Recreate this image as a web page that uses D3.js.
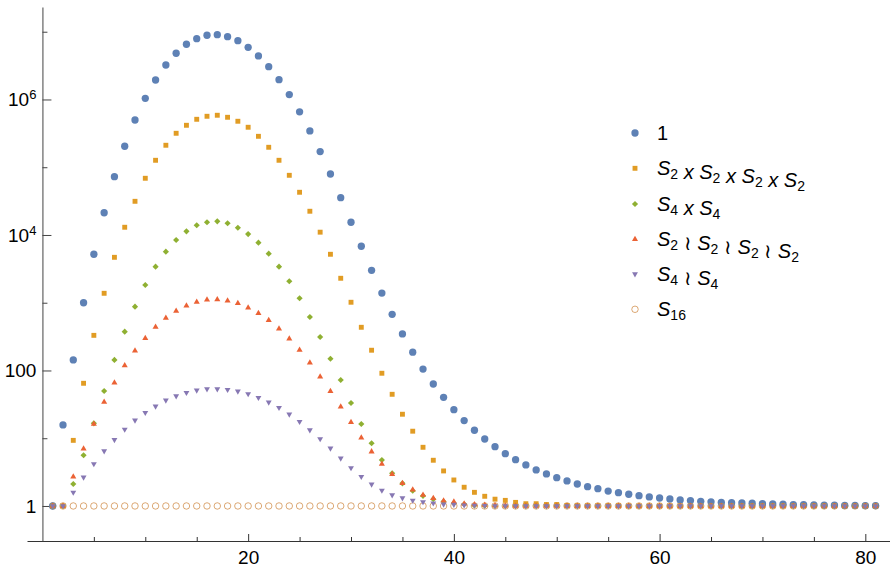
<!DOCTYPE html>
<html>
<head>
<meta charset="utf-8">
<script src="https://cdn.jsdelivr.net/npm/d3@7"></script>
<style>
  body { margin: 0; background: #fff; }
  svg { font-family: "Liberation Sans", Arial, sans-serif; }
</style>
</head>
<body>
<div id="chart"></div>
<script>
// x positions 1..81
const ks = d3.range(1, 82);

const seriesNames = ['1', 'S_2 x S_2 x S_2 x S_2', 'S_4 x S_4', 'S_2 ≀ S_2 ≀ S_2 ≀ S_2', 'S_4 ≀ S_4', 'S_16'];

const trivial = [
  1, 15.7, 143, 1000, 5190, 21300, 72600, 203800, 498000, 1040000,
  1940000, 3230000, 4810000, 6530000, 7890000, 8870000, 9040000, 8450000, 7380000, 5890000,
  4390000, 3050000, 1960000, 1180000, 658000, 343000, 170000, 79500, 35500, 15400,
  6810, 3010, 1390, 675, 346, 186, 105, 63.2, 40.2, 26.4,
  18.2, 13.1, 9.75, 7.5, 5.92, 4.82, 4.03, 3.40, 2.97, 2.62,
  2.34, 2.11, 1.93, 1.80, 1.66, 1.57, 1.49, 1.42, 1.36, 1.31,
  1.27, 1.23, 1.20, 1.17, 1.15, 1.13, 1.12, 1.11, 1.10, 1.08,
  1.07, 1.06, 1.05, 1.05, 1.04, 1.03, 1.03, 1.02, 1.02, 1.01, 1.01
];
const s2x4 = [
  1, 1, 9.3, 64.7, 330, 1378, 4680, 13000, 31400, 68700,
  126600, 211000, 317000, 416000, 510000, 565000, 585000, 546000, 477000, 389000,
  286000, 197000, 126600, 76000, 42700, 22400, 11000, 5190, 2296, 1016,
  434, 199, 91, 44.5, 22.6, 12.7, 7.35, 4.73, 3.29, 2.42,
  1.89, 1.59, 1.39, 1.26, 1.21, 1.13, 1.08, 1.08, 1.05, 1.05,
  1.02, 1.01, 1.01, 1.01, 1.01, 1.01, 1, 1, 1, 1,
  1, 1, 1, 1, 1, 1, 1, 1, 1, 1,
  1, 1, 1, 1, 1, 1, 1, 1, 1, 1, 1
];
const s4x2 = [
  1, 1, 2.11, 5.6, 16.6, 49.8, 143, 374, 875, 1828,
  3410, 5670, 8440, 11330, 13900, 15400, 15900, 14900, 12800, 10300,
  7700, 5300, 3410, 2072, 1163, 616, 312, 149, 72.4, 33.1,
  16.2, 8.42, 4.77, 3.04, 2.16, 1.68, 1.41, 1.26, 1.16, 1.10,
  1.06, 1.02, 1.01, 1, 1, 1, 1, 1, 1, 1,
  1, 1, 1, 1, 1, 1, 1, 1, 1, 1,
  1, 1, 1, 1, 1, 1, 1, 1, 1, 1,
  1, 1, 1, 1, 1, 1, 1, 1, 1, 1, 1
];
const s2wr4 = [
  1, 1, 2.71, 7.0, 16.2, 34.3, 66, 118, 196, 299,
  439, 596, 755, 905, 1026, 1110, 1120, 1072, 982, 846,
  698, 551, 414, 295, 201, 130, 81, 49.3, 29.2, 17.2,
  10.2, 6.34, 4.17, 2.94, 2.16, 1.74, 1.45, 1.30, 1.19, 1.15,
  1.08, 1.05, 1.03, 1.02, 1.01, 1, 1, 1, 1, 1,
  1, 1, 1, 1, 1, 1, 1, 1, 1, 1,
  1, 1, 1, 1, 1, 1, 1, 1, 1, 1,
  1, 1, 1, 1, 1, 1, 1, 1, 1, 1, 1
];
const s4wr2 = [
  1, 1, 1.59, 2.65, 4.17, 6.48, 9.5, 13.5, 18.4, 23.9,
  29.6, 36.3, 42.0, 47.1, 51, 53.3, 53.3, 52.1, 49.3, 45,
  39.7, 33.9, 28.3, 22.6, 17.6, 13.2, 9.75, 7.1, 5.06, 3.64,
  2.71, 2.09, 1.70, 1.45, 1.31, 1.21, 1.15, 1.10, 1.06, 1.05,
  1.03, 1.02, 1.01, 1, 1, 1, 1, 1, 1, 1,
  1, 1, 1, 1, 1, 1, 1, 1, 1, 1,
  1, 1, 1, 1, 1, 1, 1, 1, 1, 1,
  1, 1, 1, 1, 1, 1, 1, 1, 1, 1, 1
];
const s16 = [
  1, 1, 1, 1, 1, 1, 1, 1, 1, 1,
  1, 1, 1, 1, 1, 1, 1, 1, 1, 1,
  1, 1, 1, 1, 1, 1, 1, 1, 1, 1,
  1, 1, 1, 1, 1, 1, 1, 1, 1, 1,
  1, 1, 1, 1, 1, 1, 1, 1, 1, 1,
  1, 1, 1, 1, 1, 1, 1, 1, 1, 1,
  1, 1, 1, 1, 1, 1, 1, 1, 1, 1,
  1, 1, 1, 1, 1, 1, 1, 1, 1, 1, 1
];

const xMajor = [20, 40, 60, 80];
const xMinor = [5, 10, 15, 25, 30, 35, 45, 50, 55, 65, 70, 75];
const yMajor = [1, 100, 1e4, 1e6];
const yMinor = [10, 1000, 1e5, 1e7];

const width = 890;
const height = 569;

const colors = ['#5E81B5', '#E19C24', '#8FB032', '#EB6235', '#8778B3', '#C56E1A'];
const allSeries = [trivial, s2x4, s4x2, s2wr4, s4wr2, s16];

const svg = d3.select('#chart')
  .append('svg')
  .attr('width', width)
  .attr('height', height);

const x = d3.scaleLinear()
  .domain([-1.5, 82.4])
  .range([27, 890]);

const y = d3.scaleLog()
  .domain([Math.pow(10, -0.517), Math.pow(10, 7.365)])
  .range([541, 7]);

// marker shapes, one per series
const shapes = [
  { path: d3.symbol(d3.symbolCircle, 42)(), rot: 0, fill: true },
  { path: d3.symbol(d3.symbolSquare, 24)(), rot: 0, fill: true },
  { path: d3.symbol(d3.symbolSquare, 19)(), rot: 45, fill: true },
  { path: d3.symbol(d3.symbolTriangle, 16)(), rot: 0, fill: true },
  { path: d3.symbol(d3.symbolTriangle, 15)(), rot: 180, fill: true },
  { path: d3.symbol(d3.symbolCircle, 33)(), rot: 0, fill: false }
];

function drawMarker(g, i, px, py) {
  const s = shapes[i];
  g.append('path')
    .attr('d', s.path)
    .attr('transform', `translate(${px},${py}) rotate(${s.rot})`)
    .attr('fill', s.fill ? colors[i] : 'none')
    .attr('stroke', s.fill ? 'none' : colors[i])
    .attr('stroke-opacity', 0.75)
    .attr('stroke-width', s.fill ? 0 : 0.8);
}

// axes
function yAxis(g) {
  g.attr('transform', `translate(${x(0)},0)`)
    .call(d3.axisLeft(y).tickValues(yMajor).tickSizeInner(-9).tickSizeOuter(0).tickPadding(6)
      .tickFormat(() => ''))
    .attr('color', '#444');
  g.selectAll('.tick text').remove();
  g.selectAll('.tick').each(function (d) {
    const t = d3.select(this).append('text')
      .attr('x', -6).attr('dy', '0.32em')
      .attr('text-anchor', 'end')
      .attr('fill', '#000')
      .attr('font-size', '19px');
    if (d >= 1e4) {
      t.append('tspan').text('10');
      t.append('tspan').text(Math.round(Math.log10(d)))
        .attr('font-size', '13px').attr('dy', '-7');
    } else {
      t.text(d);
    }
  });
}
function yAxisMinor(g) {
  g.attr('transform', `translate(${x(0)},0)`)
    .call(d3.axisLeft(y).tickValues(yMinor).tickSizeInner(-5).tickSizeOuter(0).tickFormat(() => ''))
    .attr('color', '#444');
  g.select('.domain').remove();
}
function xAxis(g) {
  g.attr('transform', `translate(0,${y.range()[0]})`)
    .call(d3.axisBottom(x).tickValues(xMajor).tickSizeInner(-7).tickSizeOuter(0).tickPadding(10))
    .attr('color', '#333')
    .attr('font-size', '19px')
    .attr('font-family', '"Liberation Sans", Arial, sans-serif');
  g.selectAll('.tick text').attr('fill', '#000');
}
function xAxisMinor(g) {
  g.attr('transform', `translate(0,${y.range()[0]})`)
    .call(d3.axisBottom(x).tickValues(xMinor).tickSizeInner(-4).tickSizeOuter(0).tickFormat(() => ''))
    .attr('color', '#333');
  g.select('.domain').remove();
}

svg.append('g').call(xAxis);
svg.append('g').call(xAxisMinor);
svg.append('g').call(yAxis);
svg.append('g').call(yAxisMinor);

// points: S16 underneath, then the others in legend order
const order = [5, 0, 1, 2, 3, 4];
const plot = svg.append('g');
order.forEach(i => {
  const g = plot.append('g');
  allSeries[i].forEach((v, j) => drawMarker(g, i, x(ks[j]), y(v)));
});

// legend
const legend = svg.append('g');
const legendY = [133, 168.3, 204, 239.3, 274, 309.3];
seriesNames.forEach((name, i) => {
  drawMarker(legend, i, 635, legendY[i]);
  const t = legend.append('text')
    .attr('x', 657)
    .attr('y', legendY[i] + 7)
    .attr('font-size', '20px')
    .attr('fill', '#000');
  const parts = name.split(' ');
  parts.forEach((p, k) => {
    const prefix = k > 0 ? ' ' : '';
    const m = p.match(/^S_(\d+)$/);
    if (m) {
      t.append('tspan').text(prefix + 'S').attr('font-style', 'italic');
      t.append('tspan').text(m[1]).attr('font-size', '14px').attr('dy', 4);
      t.append('tspan').text('').attr('dy', -4);
    } else if (p === 'x') {
      t.append('tspan').text(prefix + 'x').attr('font-style', 'italic');
    } else {
      t.append('tspan').text(prefix + p);
    }
  });
});
</script>
</body>
</html>
